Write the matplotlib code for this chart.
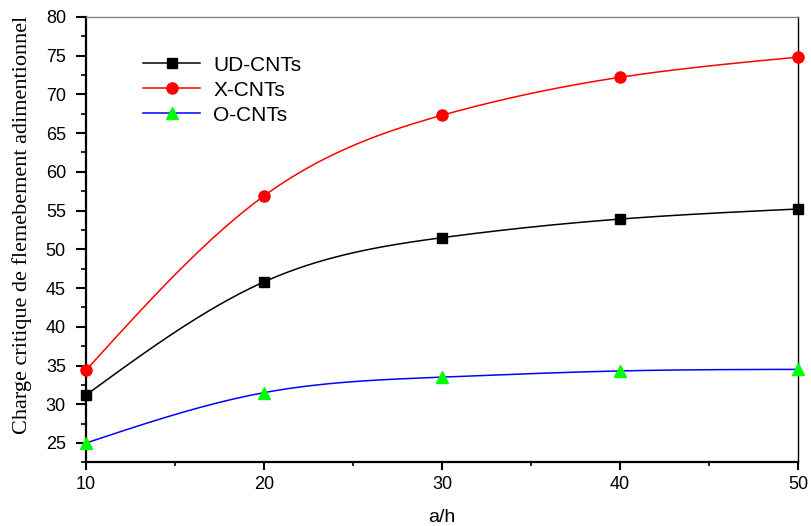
import numpy as np
import matplotlib
matplotlib.use("Agg")
import matplotlib.pyplot as plt
from matplotlib.ticker import MultipleLocator

# Aspect ratio a/h and the critical buckling load for each CNT distribution
a_h = [10, 20, 30, 40, 50]
ud_cnts = [31.2, 45.8, 51.5, 53.9, 55.2]
x_cnts = [34.4, 56.9, 67.3, 72.2, 74.8]
o_cnts = [25.0, 31.5, 33.5, 34.3, 34.5]

series_names = ["UD-CNTs", "X-CNTs", "O-CNTs"]
x_ticks = [10, 20, 30, 40, 50]
y_ticks = [25, 30, 35, 40, 45, 50, 55, 60, 65, 70, 75, 80]


def natural_spline(x, y, n=300):
    """Smooth natural cubic spline through the given points."""
    x = np.asarray(x, float)
    y = np.asarray(y, float)
    k = len(x)
    h = np.diff(x)
    A = np.zeros((k, k))
    r = np.zeros(k)
    A[0, 0] = A[-1, -1] = 1.0
    for i in range(1, k - 1):
        A[i, i - 1] = h[i - 1]
        A[i, i] = 2 * (h[i - 1] + h[i])
        A[i, i + 1] = h[i]
        r[i] = 6 * ((y[i + 1] - y[i]) / h[i] - (y[i] - y[i - 1]) / h[i - 1])
    m = np.linalg.solve(A, r)
    xs = np.linspace(x[0], x[-1], n)
    idx = np.clip(np.searchsorted(x, xs) - 1, 0, k - 2)
    x0, x1 = x[idx], x[idx + 1]
    hh = x1 - x0
    t0 = x1 - xs
    t1 = xs - x0
    ys = (m[idx] * t0 ** 3 / (6 * hh) + m[idx + 1] * t1 ** 3 / (6 * hh)
          + (y[idx] / hh - m[idx] * hh / 6) * t0
          + (y[idx + 1] / hh - m[idx + 1] * hh / 6) * t1)
    return xs, ys


plt.rcParams["font.family"] = ["Liberation Sans", "DejaVu Sans"]

fig = plt.figure(figsize=(8.12, 5.26), dpi=100)
ax = fig.add_axes([0.106, 0.121, 0.877, 0.847])

styles = [
    dict(color="black", marker="s", mfc="black", mec="black", ms=6.5),
    dict(color="red", marker="o", mfc="red", mec="red", ms=8),
    dict(color="blue", marker="^", mfc="#00ff00", mec="#00ff00", ms=9),
]

for name, vals, st in zip(series_names, [ud_cnts, x_cnts, o_cnts], styles):
    xs, ys = natural_spline(a_h, vals)
    ax.plot(xs, ys, color=st["color"], lw=1.1, zorder=2)
    ax.plot(a_h, vals, ls="none", marker=st["marker"], mfc=st["mfc"],
            mec=st["mec"], ms=st["ms"], zorder=3, clip_on=False)
    ax.plot([], [], color=st["color"], lw=1.1, marker=st["marker"],
            mfc=st["mfc"], mec=st["mec"], ms=st["ms"], label=name)

ax.set_xlim(10, 50)
ax.set_ylim(22.5, 80)
ax.set_xticks(x_ticks)
ax.set_yticks(y_ticks)
ax.xaxis.set_minor_locator(MultipleLocator(5))
ax.yaxis.set_minor_locator(MultipleLocator(2.5))

ax.tick_params(axis="both", which="both", direction="out", color="black",
               labelsize=13)
ax.tick_params(axis="x", which="major", length=6, width=1.5, pad=4)
ax.tick_params(axis="x", which="minor", length=3, width=1.2)
ax.tick_params(axis="y", which="major", length=7, width=1.5, pad=7.5)
ax.tick_params(axis="y", which="minor", length=3.6, width=1.2)

ax.spines["left"].set_linewidth(1.6)
ax.spines["bottom"].set_linewidth(1.6)
ax.spines["right"].set_linewidth(1.0)
ax.spines["top"].set_linewidth(1.0)
ax.spines["top"].set_color("#808080")

ax.set_xlabel("a/h", fontsize=14)
ax.xaxis.set_label_coords(0.5, -0.104)
ax.set_ylabel("Charge critique de flemebement adimentionnel",
              fontsize=16, family=["Liberation Serif", "DejaVu Serif"])
ax.yaxis.set_label_coords(-0.076, 0.533)

leg = ax.legend(loc="upper left", bbox_to_anchor=(0.080, 0.913), frameon=False,
                fontsize=15, handlelength=2.75, handletextpad=0.63,
                labelspacing=0.29, borderaxespad=0, borderpad=0)

fig.savefig("out.png", dpi=100)
